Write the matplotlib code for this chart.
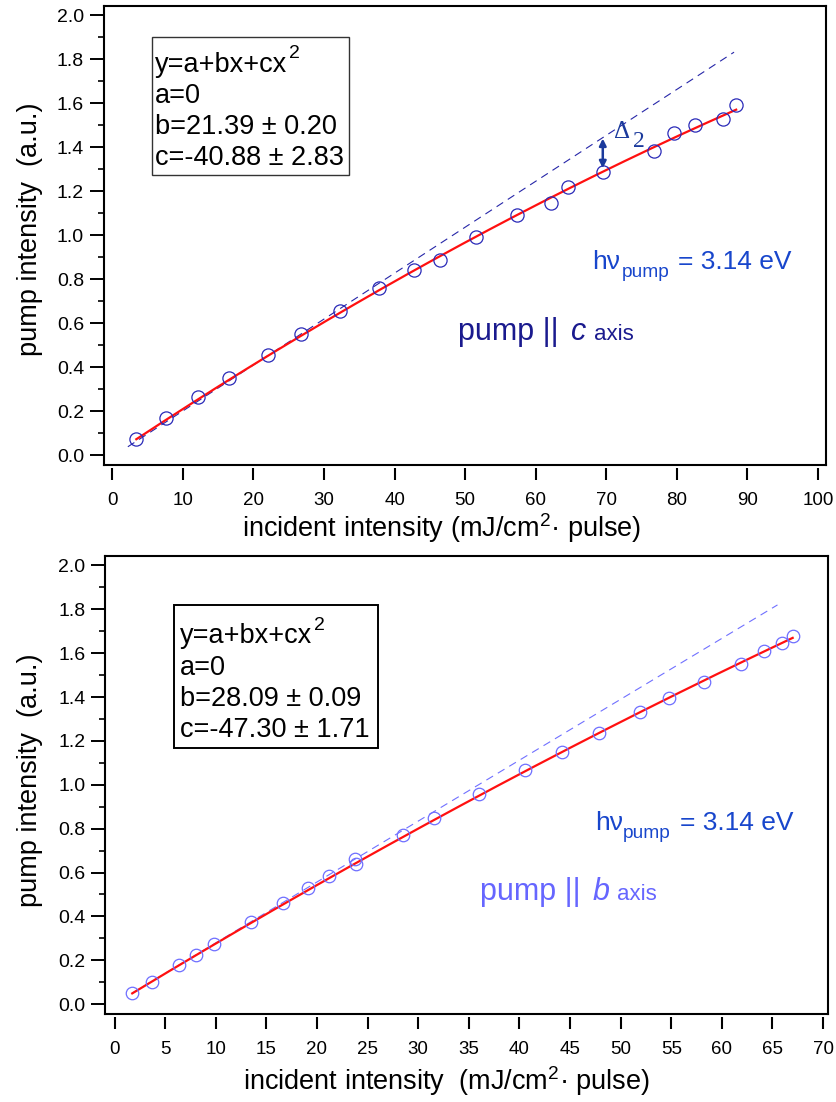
import numpy as np
import matplotlib
matplotlib.use('Agg')
import matplotlib.pyplot as plt
from matplotlib.patches import Rectangle
from matplotlib.ticker import MultipleLocator, FormatStrFormatter

plt.rcParams['font.family'] = ['Liberation Sans', 'DejaVu Sans']
plt.rcParams['mathtext.fontset'] = 'custom'
plt.rcParams['mathtext.rm'] = 'Liberation Sans'
plt.rcParams['mathtext.it'] = 'Liberation Sans:italic'
plt.rcParams['mathtext.bf'] = 'Liberation Sans:bold'

# ---- data: pump || c axis (top) ----
x_c = [3.4, 7.6, 12.2, 16.6, 22.1, 26.8, 32.2, 37.8, 42.8, 46.4, 51.6,
       57.4, 62.2, 64.6, 69.5, 76.7, 79.6, 82.5, 86.5, 88.4]
y_c = [0.072, 0.167, 0.266, 0.352, 0.454, 0.551, 0.657, 0.758, 0.843, 0.888,
       0.992, 1.094, 1.149, 1.220, 1.286, 1.385, 1.464, 1.503, 1.527, 1.594]
fit_c = (0.0, 21.39, -40.88)          # a, b, c  (x in J/cm^2)
err_c = (0.20, 2.83)
dash_c_x = [2.2, 88.1]
dash_c_y = [0.038, 1.833]

# ---- data: pump || b axis (bottom) ----
x_b = [1.75, 3.72, 6.36, 8.07, 9.78, 13.5, 16.6, 19.1, 21.2, 23.8, 23.9,
       28.5, 31.6, 36.0, 40.6, 44.2, 47.9, 51.9, 54.8, 58.2, 61.9, 64.2, 65.9, 67.0]
y_b = [0.050, 0.103, 0.178, 0.226, 0.273, 0.375, 0.460, 0.530, 0.585, 0.661, 0.638,
       0.771, 0.849, 0.959, 1.067, 1.148, 1.235, 1.330, 1.397, 1.470, 1.550, 1.608,
       1.648, 1.678]
fit_b = (0.0, 28.09, -47.30)
err_b = (0.09, 1.71)
dash_b_x = [1.75, 65.5]
dash_b_y = [0.050, 1.820]

W, H = 836, 1102
fig = plt.figure(figsize=(W / 100, H / 100), dpi=100)


def F(px, py):
    return px / W, 1 - py / H


def fit_curve(x, p):
    x = np.linspace(min(x), max(x), 200)
    xs = x / 1000.0
    return x, p[0] + p[1] * xs + p[2] * xs ** 2


def style_axes(ax, xlim, xstep):
    ax.set_xlim(*xlim)
    ax.set_ylim(-0.045, 2.043)
    for s in ax.spines.values():
        s.set_linewidth(1.5)
    ax.spines['bottom'].set_position(('outward', 2))
    ax.spines['bottom'].set_visible(False)
    ax.plot([0, 1], [0, 0], transform=ax.transAxes, color='black', lw=1.5,
            clip_on=False, solid_capstyle='projecting')
    ax.xaxis.set_major_locator(MultipleLocator(xstep))
    ax.yaxis.set_major_locator(MultipleLocator(0.2))
    ax.yaxis.set_minor_locator(MultipleLocator(0.1))
    ax.yaxis.set_major_formatter(FormatStrFormatter('%.1f'))
    ax.tick_params(axis='x', which='major', direction='out', length=8.5, width=1.5,
                   pad=9, labelsize=13.5)
    ax.tick_params(axis='y', which='major', direction='out', length=10, width=1.4,
                   pad=4, labelsize=14)
    ax.tick_params(axis='y', which='minor', direction='out', length=4.5, width=1.2)


def photon_label(x0, x_sub, x_eq, yb):
    col = '#1846cc'
    fig.text(*F(x0, yb), 'h\u03bd', fontsize=19, color=col, va='baseline')
    fig.text(*F(x_sub, yb + 8), 'pump', fontsize=13.8, color=col, va='baseline')
    fig.text(*F(x_eq, yb), '= 3.14 eV', fontsize=19, color=col, va='baseline')


# ---------------- top panel ----------------
ax1 = fig.add_axes([103.5 / W, 1 - 465 / H, (826 - 103.5) / W, (465 - 6) / H])
style_axes(ax1, (-1.25, 101.13), 10)
ax1.plot(dash_c_x, dash_c_y, color='#2626a8', lw=0.8, ls=(0, (7, 5)))
fx, fy = fit_curve(x_c, fit_c)
ax1.plot(fx, fy, color='#ff1010', lw=1.6)
ax1.plot(x_c, y_c, 'o', mfc='none', mec='#2a2ab8', mew=0.9, ms=9.5)

# delta arrow
ax1.annotate('', xy=(69.5, 1.305), xytext=(69.5, 1.44),
             arrowprops=dict(arrowstyle='<|-|>', color='#1b3a9c', lw=1.8,
                             mutation_scale=10, shrinkA=0, shrinkB=0))
fig.text(*F(614, 138), '\u0394', fontsize=18, color='#1b3a9c',
         family='Liberation Serif', va='baseline')
fig.text(*F(633, 147), '2', fontsize=17, color='#1b3a9c',
         family='Liberation Serif', va='baseline')

# fit box
fig.add_artist(Rectangle(F(151.7, 175), (349.3 - 151.7) / W, (175 - 36.7) / H,
                         transform=fig.transFigure, fill=False, ec='#333333', lw=1.0))
box_c = ['y=a+bx+cx', 'a=%g' % fit_c[0],
         'b=%.2f \u00b1 %.2f' % (fit_c[1], err_c[0]),
         'c=%.2f \u00b1 %.2f' % (fit_c[2], err_c[1])]
for line, yb in zip(box_c, [71.7, 103.3, 134.3, 165.0]):
    fig.text(*F(155, yb), line, fontsize=19.5, va='baseline', color='black')
fig.text(*F(289, 58), '2', fontsize=14, va='baseline', color='black')

photon_label(591.7, 621.5, 678, 269)
fig.text(*F(458, 340), 'pump ||', fontsize=22, color='#1a1a8e', va='baseline')
fig.text(*F(571, 340), 'c', fontsize=22, color='#1a1a8e', va='baseline', style='italic')
fig.text(*F(594, 340), 'axis', fontsize=16, color='#1a1a8e', va='baseline')

fig.text(*F(30, 229), 'pump intensity  (a.u.)', fontsize=19.5, rotation=90,
         ha='center', va='center')
fig.text(*F(242, 537), 'incident intensity (mJ/cm$^{2}$\u00b7 pulse)', fontsize=19.5,
         va='baseline')

# ---------------- bottom panel ----------------
ax2 = fig.add_axes([105 / W, 1 - 1014 / H, (828.3 - 105) / W, (1014 - 556) / H])
style_axes(ax2, (-0.94, 70.52), 5)
ax2.plot(dash_b_x, dash_b_y, color='#7070ff', lw=0.8, ls=(0, (7, 5)))
fx, fy = fit_curve(x_b, fit_b)
ax2.plot(fx, fy, color='#ff1010', lw=1.6)
ax2.plot(x_b, y_b, 'o', mfc='none', mec='#6e6eff', mew=0.9, ms=9)

fig.add_artist(Rectangle(F(174, 748.3), (377.7 - 174) / W, (748.3 - 605) / H,
                         transform=fig.transFigure, fill=False, ec='black', lw=1.4))
box_b = ['y=a+bx+cx', 'a=%g' % fit_b[0],
         'b=%.2f \u00b1 %.2f' % (fit_b[1], err_b[0]),
         'c=%.2f \u00b1 %.2f' % (fit_b[2], err_b[1])]
for line, yb in zip(box_b, [643.3, 675.0, 705.7, 736.7]):
    fig.text(*F(180, yb), line, fontsize=19.5, va='baseline', color='black')
fig.text(*F(314, 630), '2', fontsize=14, va='baseline', color='black')

photon_label(595, 623, 680, 830)
fig.text(*F(480, 900), 'pump ||', fontsize=22, color='#6666ff', va='baseline')
fig.text(*F(593, 900), 'b', fontsize=22, color='#6666ff', va='baseline', style='italic')
fig.text(*F(617, 900), 'axis', fontsize=16, color='#6666ff', va='baseline')

fig.text(*F(30, 780), 'pump intensity  (a.u.)', fontsize=19.5, rotation=90,
         ha='center', va='center')
fig.text(*F(243, 1090), 'incident intensity  (mJ/cm$^{2}$\u00b7 pulse)', fontsize=19.5,
         va='baseline')

fig.savefig('out.png', dpi=100)
